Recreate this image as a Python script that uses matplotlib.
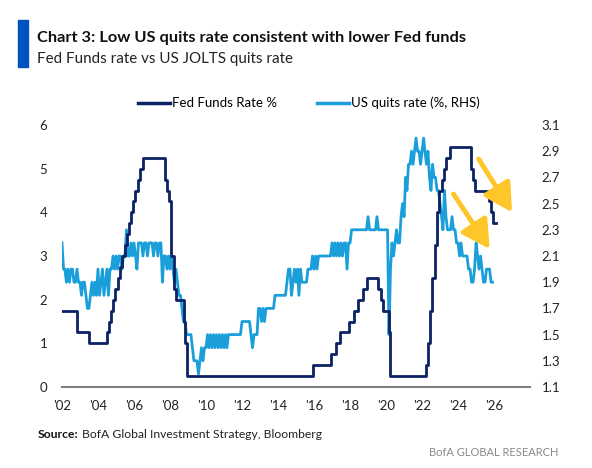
import matplotlib.pyplot as plt
import matplotlib.patches as patches
import pandas as pd

# Fed funds target (upper bound), change points
ffr_dates = [
    "2002-01-01", "2002-11-06", "2003-06-25", "2004-06-30", "2004-08-10", "2004-09-21",
    "2004-11-10", "2004-12-14", "2005-02-02", "2005-03-22", "2005-05-03", "2005-06-30",
    "2005-08-09", "2005-09-20", "2005-11-01", "2005-12-13", "2006-01-31", "2006-03-28",
    "2006-05-10", "2006-06-29", "2007-09-18", "2007-10-31", "2007-12-11", "2008-01-22",
    "2008-01-30", "2008-03-18", "2008-04-30", "2008-10-08", "2008-10-29", "2008-12-16",
    "2015-12-16", "2016-12-14", "2017-03-15", "2017-06-14", "2017-12-13", "2018-03-21",
    "2018-06-13", "2018-09-26", "2018-12-19", "2019-07-31", "2019-09-18", "2019-10-30",
    "2020-03-03", "2020-03-15", "2022-03-16", "2022-05-04", "2022-06-15", "2022-07-27",
    "2022-09-21", "2022-11-02", "2022-12-14", "2023-02-01", "2023-03-22", "2023-05-03",
    "2023-07-26", "2024-09-18", "2024-11-07", "2024-12-18", "2025-09-17", "2025-10-29",
    "2025-12-10", "2026-02-01",
]
ffr_values = [
    1.75, 1.25, 1.00, 1.25, 1.50, 1.75,
    2.00, 2.25, 2.50, 2.75, 3.00, 3.25,
    3.50, 3.75, 4.00, 4.25, 4.50, 4.75,
    5.00, 5.25, 4.75, 4.50, 4.25, 3.50,
    3.00, 2.25, 2.00, 1.50, 1.00, 0.25,
    0.50, 0.75, 1.00, 1.25, 1.50, 1.75,
    2.00, 2.25, 2.50, 2.25, 2.00, 1.75,
    1.25, 0.25, 0.50, 1.00, 1.75, 2.50,
    3.25, 4.00, 4.50, 4.75, 5.00, 5.25,
    5.50, 5.00, 4.75, 4.50, 4.25, 4.00,
    3.75, 3.75,
]

# JOLTS quits rate, monthly from Jan 2002
quits_start = "2002-01-01"
q2002 = [2.2, 2.0, 2.0, 1.9, 2.0, 1.9, 2.0, 2.0, 1.9, 1.9, 2.0, 1.9]
q2003 = [1.9, 1.8, 1.9, 1.9, 1.8, 1.7, 1.7, 1.8, 1.9, 1.8, 1.9, 1.8]
q2004 = [2.0, 1.8, 1.9, 2.0, 1.8, 1.9, 2.0, 1.8, 2.0, 2.0, 2.1, 2.0]
q2005 = [2.1, 2.0, 2.1, 2.1, 2.0, 2.1, 2.1, 2.3, 2.1, 2.1, 2.2, 2.1]
q2006 = [2.2, 2.1, 2.0, 2.2, 2.2, 2.2, 2.1, 2.2, 2.2, 2.1, 2.2, 2.2]
q2007 = [2.2, 2.1, 2.2, 2.2, 2.1, 2.2, 2.2, 1.9, 2.1, 2.1, 2.0, 2.1]
q2008 = [2.0, 2.1, 2.0, 1.9, 2.0, 1.9, 1.8, 1.8, 1.7, 1.6, 1.6, 1.5]
q2009 = [1.5, 1.5, 1.5, 1.4, 1.3, 1.3, 1.3, 1.2, 1.3, 1.4, 1.3, 1.4]
q2010 = [1.4, 1.5, 1.4, 1.5, 1.4, 1.5, 1.4, 1.5, 1.4, 1.5, 1.4, 1.5]
q2011 = [1.4, 1.5, 1.4, 1.5, 1.5, 1.5, 1.5, 1.5, 1.5, 1.5, 1.5, 1.5]
q2012 = [1.6, 1.6, 1.6, 1.6, 1.6, 1.6, 1.5, 1.4, 1.5, 1.5, 1.5, 1.7]
q2013 = [1.7, 1.6, 1.7, 1.6, 1.7, 1.7, 1.7, 1.7, 1.7, 1.7, 1.8, 1.8]
q2014 = [1.8, 1.8, 1.8, 1.8, 1.8, 1.8, 1.9, 2.0, 2.0, 1.8, 1.9, 2.0]
q2015 = [1.9, 2.0, 1.8, 2.0, 1.9, 1.9, 1.9, 1.9, 2.0, 2.0, 2.0, 2.1]
q2016 = [2.0, 2.1, 2.0, 2.1, 2.1, 2.1, 2.1, 2.1, 2.1, 2.1, 2.1, 2.1]
q2017 = [2.2, 2.1, 2.2, 2.1, 2.2, 2.1, 2.2, 2.1, 2.2, 2.2, 2.0, 2.2]
q2018 = [2.2, 2.3, 2.3, 2.3, 2.3, 2.3, 2.3, 2.3, 2.3, 2.3, 2.3, 2.3]
q2019 = [2.4, 2.3, 2.3, 2.3, 2.3, 2.3, 2.4, 2.3, 2.3, 2.3, 2.3, 2.3]
q2020 = [2.3, 2.3, 1.5, 2.0, 2.2, 2.1, 2.2, 2.3, 2.2, 2.2, 2.4, 2.5]
q2021 = [2.4, 2.7, 2.6, 2.8, 2.8, 2.9, 2.8, 2.9, 3.0, 2.9, 2.9, 2.8]
q2022 = [2.9, 3.0, 2.9, 2.8, 2.9, 2.7, 2.6, 2.8, 2.7, 2.7, 2.6, 2.6]
q2023 = [2.5, 2.4, 2.3, 2.6, 2.4, 2.3, 2.3, 2.3, 2.4, 2.3, 2.3, 2.2]
q2024 = [2.2, 2.1, 2.2, 2.1, 2.1, 2.1, 2.1, 2.0, 2.0, 1.9, 1.9, 2.0]
q2025 = [2.2, 2.1, 2.0, 2.1, 2.0, 1.9, 1.9, 2.0, 2.0, 2.0, 1.9, 1.9]
quits_values = (q2002 + q2003 + q2004 + q2005 + q2006 + q2007 + q2008 + q2009
                + q2010 + q2011 + q2012 + q2013 + q2014 + q2015 + q2016 + q2017
                + q2018 + q2019 + q2020 + q2021 + q2022 + q2023 + q2024 + q2025)

left_ticks = [0, 1, 2, 3, 4, 5, 6]
right_ticks = [1.1, 1.3, 1.5, 1.7, 1.9, 2.1, 2.3, 2.5, 2.7, 2.9, 3.1]
x_tick_years = ["2002", "2004", "2006", "2008", "2010", "2012", "2014",
                "2016", "2018", "2020", "2022", "2024", "2026"]

NAVY = "#0B2265"
LIGHT = "#1A9FDB"
YELLOW = "#FFC629"
HEADF = ["Lato", "DejaVu Sans"]
TICKF = ["Lato", "DejaVu Sans"]

fig = plt.figure(figsize=(5.92, 4.68), dpi=100)
W, H = 592, 468
ax = fig.add_axes([62 / W, 81 / H, 468 / W, 262 / H])
ax2 = ax.twinx()

quits_dates = pd.date_range(quits_start, periods=len(quits_values), freq="MS")
ax2.plot(quits_dates, quits_values, color=LIGHT, lw=2.0)
ax.plot(pd.to_datetime(ffr_dates), ffr_values, color=NAVY, lw=2.0, drawstyle="steps-post")
ax.set_zorder(ax2.get_zorder() + 1)
ax.patch.set_visible(False)

ax.set_xlim(pd.Timestamp("2002-01-01"), pd.Timestamp("2027-12-31"))
ax.set_ylim(0, 6)
ax2.set_ylim(1.1, 3.1)
ax.set_yticks(left_ticks)
ax.set_yticklabels([str(t) for t in left_ticks])
ax2.set_yticks(right_ticks)
ax2.set_yticklabels([f"{t:.1f}" for t in right_ticks])
xt = pd.to_datetime(x_tick_years)
ax.set_xticks(xt)
ax.set_xticklabels(["'" + y[2:] for y in x_tick_years])

for a in (ax, ax2):
    for s in ("top", "left", "right", "bottom"):
        a.spines[s].set_visible(False)
    a.tick_params(length=0, labelsize=9.5, colors="#222222")
    for lab in a.get_xticklabels() + a.get_yticklabels():
        lab.set_fontfamily(TICKF)
ax.spines["bottom"].set_visible(True)
ax.spines["bottom"].set_color("#808080")
ax.spines["bottom"].set_linewidth(1.5)
ax.tick_params(axis="y", pad=10.5)
ax2.tick_params(axis="y", pad=8.5)
ax.tick_params(axis="x", pad=9)

# arrows
arrow_kw = dict(arrowstyle="-|>,head_width=0.55,head_length=1.0", color=YELLOW,
                lw=3.5, mutation_scale=17, shrinkA=0, shrinkB=0)
ax.annotate("", xy=(pd.Timestamp("2027-01-01"), 4.0),
            xytext=(pd.Timestamp("2025-02-24"), 5.22), arrowprops=arrow_kw)
ax.annotate("", xy=(pd.Timestamp("2025-10-05"), 3.16),
            xytext=(pd.Timestamp("2023-10-01"), 4.42), arrowprops=arrow_kw)

# legend
h1, = ax.plot([], [], color=NAVY, lw=2.5)
h2, = ax.plot([], [], color=LIGHT, lw=2.5)
fig.legend([h1, h2], ["Fed Funds Rate %", "US quits rate (%, RHS)"], ncol=2,
           loc="center", bbox_to_anchor=(309 / W, 1 - 103 / H), frameon=False,
           handlelength=2.4, handletextpad=0.2, columnspacing=3.0,
           prop={"family": TICKF, "size": 9.5})

# header and footer
fig.patches.append(patches.Rectangle((18 / W, 1 - 67 / H), 10 / W, 47 / H,
                                     transform=fig.transFigure, color="#0052C2"))
renderer = fig.canvas.get_renderer()


def fit_width(txt, width):
    w = txt.get_window_extent(renderer).width
    txt.set_fontsize(txt.get_fontsize() * width / w)


title = fig.text(37 / W, 1 - 42 / H,
                 "Chart 3: Low US quits rate consistent with lower Fed funds",
                 family=HEADF, weight="bold", size=13, va="baseline", color="#111111")
fit_width(title, 429)
sub = fig.text(37 / W, 1 - 63 / H, "Fed Funds rate vs US JOLTS quits rate",
               family=HEADF, size=12.5, va="baseline", color="#222222")
fit_width(sub, 256)

src = fig.text(38 / W, 1 - 438 / H, "Source:", family=HEADF, weight="bold",
               size=10, va="baseline", color="#111111")
rest = fig.text(80 / W, 1 - 438 / H, "BofA Global Investment Strategy, Bloomberg",
                family=HEADF, size=10, va="baseline", color="#222222")
w_total = src.get_window_extent(renderer).width + rest.get_window_extent(renderer).width + 3
scale = 282 / w_total
src.set_fontsize(10 * scale)
rest.set_fontsize(10 * scale)
bb = src.get_window_extent(renderer)
rest.set_x((bb.x1 + 3) / W)

brand = fig.text(558 / W, 1 - 456 / H, "BofA GLOBAL RESEARCH", family=HEADF, size=10.5,
                 va="baseline", ha="right", color="#8A8A8A")
fit_width(brand, 131)

fig.savefig("out.png", dpi=100)
